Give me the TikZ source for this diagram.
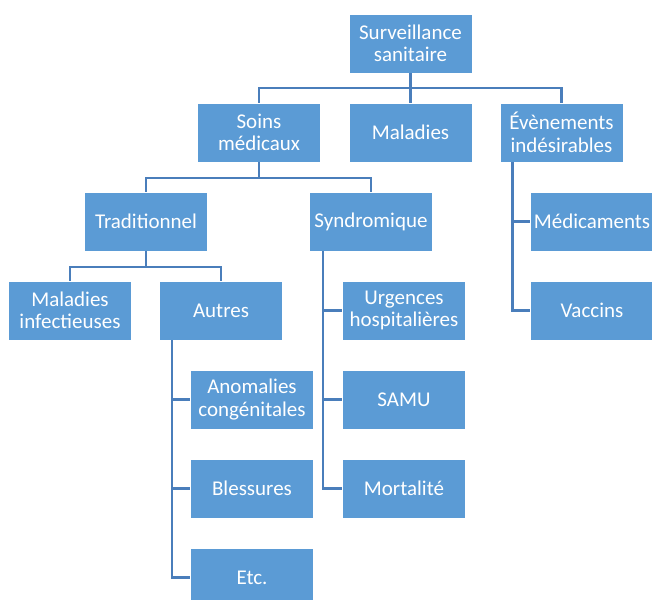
\documentclass[tikz,border=0pt]{standalone}
\usepackage{fontspec}
\setmainfont{Carlito}
\definecolor{boxfill}{HTML}{5B9BD5}
\definecolor{linkcol}{HTML}{4A7EBB}
\begin{document}
\begin{tikzpicture}[x=1pt,y=-1pt,
  box/.style={fill=boxfill,draw=white,line width=0.8pt,minimum width=123pt,minimum height=59pt,
    inner sep=1pt,align=center,text=white,font=\fontsize{21}{22.5}\selectfont},
  link/.style={draw=linkcol,line width=2.2pt}]
\useasboundingbox (0,0) rectangle (652,599);

% branching points of the tree
\coordinate (j0) at (410.5,88);
\coordinate (j1) at (259,178);
\coordinate (j2) at (146,267);

% boxes
\node[box] (surv) at (410.5,43.5) {Surveillance\\sanitaire};
\node[box] (soins) at (259,132.5) {Soins\\médicaux};
\node[box] (mal) at (410.5,132.5) {Maladies};
\node[box] (even) at (561.5,132.5) {Évènements\\indésirables};
\node[box] (trad) at (146,221.5) {Traditionnel};
\node[box] (synd) at (371,221.5) {Syndromique};
\node[box] (malinf) at (70,310.5) {Maladies\\infectieuses};
\node[box] (autres) at (221,310.5) {Autres};
\node[box] (anom) at (252,399.5) {Anomalies\\congénitales};
\node[box] (bless) at (252,488.5) {Blessures};
\node[box] (etc) at (252,577.5) {Etc.};
\node[box] (urg) at (404,310.5) {Urgences\\hospitalières};
\node[box] (samu) at (404,399.5) {SAMU};
\node[box] (mort) at (404,488.5) {Mortalité};
\node[box] (medic) at (592,221.5) {Médicaments};
\node[box] (vacc) at (592,310.5) {Vaccins};

% level links
\draw[link] (surv.south) -- (j0);
\draw[link] (soins.north) |- (j0) -| (even.north);
\draw[link] (mal.north) -- (j0);
\draw[link] (soins.south) -- (j1);
\draw[link] (trad.north) |- (j1) -| (synd.north);
\draw[link] (trad.south) -- (j2);
\draw[link] (malinf.north) |- (j2) -| (autres.north);

% side links
\draw[link] ([xshift=-49pt]autres.south) |- (anom.west);
\draw[link] ([xshift=-49pt]autres.south) |- (bless.west);
\draw[link] ([xshift=-49pt]autres.south) |- (etc.west);
\draw[link] ([xshift=-48pt]synd.south) |- (urg.west);
\draw[link] ([xshift=-48pt]synd.south) |- (samu.west);
\draw[link] ([xshift=-48pt]synd.south) |- (mort.west);
\draw[link] ([xshift=-49pt]even.south) |- (medic.west);
\draw[link] ([xshift=-49pt]even.south) |- (vacc.west);
\end{tikzpicture}
\end{document}
